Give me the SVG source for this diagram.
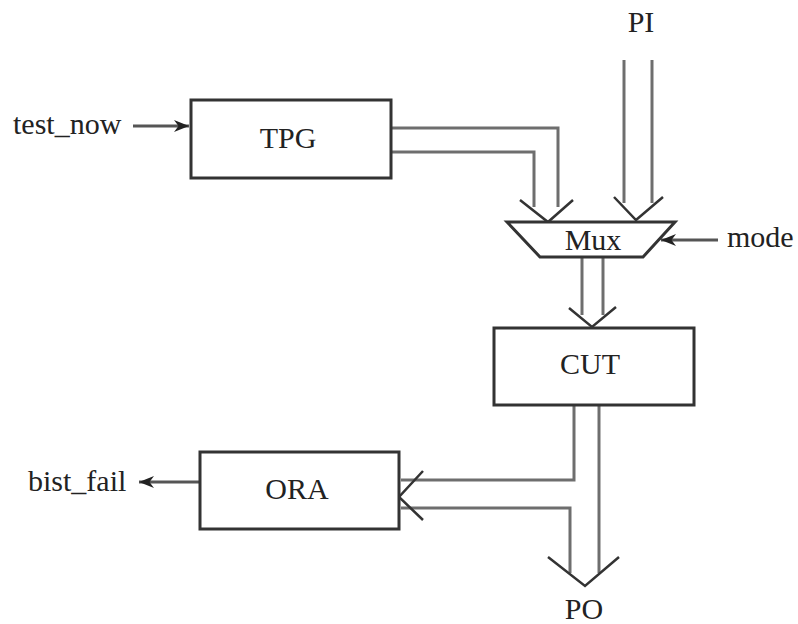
<svg xmlns="http://www.w3.org/2000/svg" width="798" height="624" viewBox="0 0 798 624">
<defs>
<style>
.box{fill:#fff;stroke:#333;stroke-width:3}
.bus{fill:none;stroke:#6e6e6e;stroke-width:3}
.chev{fill:none;stroke:#333;stroke-width:2.5}
.sig{fill:none;stroke:#555;stroke-width:3}
text{font-family:"Liberation Serif","Times New Roman",serif;font-size:30px;fill:#222}
.c{text-anchor:middle}
</style>
<marker id="ah" viewBox="0 0 10 10" refX="10" refY="5" markerWidth="5" markerHeight="5" orient="auto" markerUnits="strokeWidth">
<path d="M0,1 L10,5 L0,9 L3,5 Z" fill="#222"/>
</marker>
</defs>
<rect width="798" height="624" fill="#fff"/>
<g id="connectors">
<line class="sig" x1="133" y1="126" x2="189" y2="126" marker-end="url(#ah)"/>
<line class="sig" x1="718" y1="240" x2="661" y2="240" marker-end="url(#ah)"/>
<line class="sig" x1="199" y1="482" x2="139" y2="482" marker-end="url(#ah)"/>
<polyline class="bus" points="392,128 558,128 558,207"/>
<polyline class="bus" points="392,152 534,152 534,207"/>
<polyline class="chev" points="520,200 548,222 573,200"/>
<line class="bus" x1="624" y1="60" x2="624" y2="203"/>
<line class="bus" x1="652" y1="60" x2="652" y2="203"/>
<polyline class="chev" points="614,197 636,220 663,197"/>
<line class="bus" x1="582" y1="258" x2="582" y2="315"/>
<line class="bus" x1="603" y1="258" x2="603" y2="315"/>
<polyline class="chev" points="569,308 592,327 616,307"/>
<polyline class="bus" points="574,406 574,480 401,480"/>
<polyline class="bus" points="401,508 570,508 570,573"/>
<line class="bus" x1="599" y1="406" x2="599" y2="573"/>
<polyline class="chev" points="423,471 399,497 423,520"/>
<polyline class="chev" points="548,557 585,586 619,557"/>
</g>
<g id="tpg">
<rect class="box" x="191" y="100" width="200" height="78"/>
<text class="c" x="288" y="148">TPG</text>
</g>
<g id="mux">
<polygon class="box" points="507,222 675,222 643,257 540,257"/>
<text class="c" x="593" y="250">Mux</text>
</g>
<g id="cut">
<rect class="box" x="494" y="328" width="200" height="77"/>
<text class="c" x="590" y="374">CUT</text>
</g>
<g id="ora">
<rect class="box" x="200" y="452" width="199" height="77"/>
<text class="c" x="297" y="499">ORA</text>
</g>
<g id="labels">
<text x="13" y="134">test_now</text>
<text x="727" y="247">mode</text>
<text x="28" y="491">bist_fail</text>
<text class="c" x="641" y="32">PI</text>
<text class="c" x="584" y="619">PO</text>
</g>
</svg>
